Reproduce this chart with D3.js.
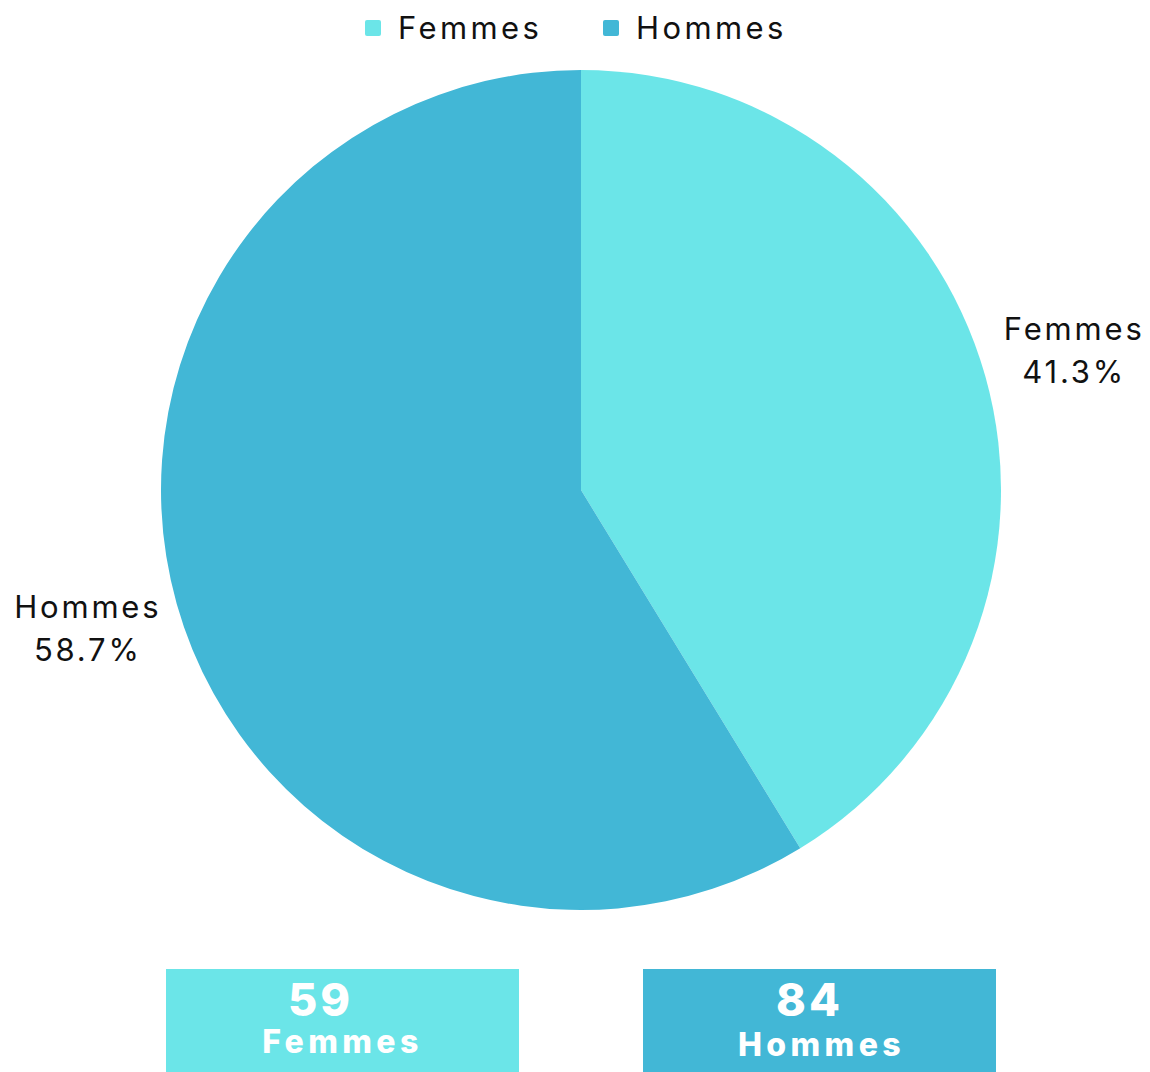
<!DOCTYPE html>
<html>
<head>
<meta charset="utf-8">
<script src="https://cdn.jsdelivr.net/npm/d3@7"></script>
<style>
  body { margin: 0; background: #fff; }
  svg { display: block; font-family: "Inter", "Noto Sans", sans-serif; }
</style>
</head>
<body>
<svg class="chart" width="1150" height="1072"></svg>
<script>
// Data
const categories = ['Femmes', 'Hommes'];
const counts = [59, 84];
const colors = ['#6be5e8', '#42b7d6'];

const width = 1150, height = 1072;
const cx = 581, cy = 490, radius = 420;

const svg = d3.select('.chart');

// Legend
const legend = svg.append('g').attr('class', 'legend');
const legendX = [365, 603];
categories.forEach((c, i) => {
  legend.append('rect')
    .attr('x', legendX[i]).attr('y', 20)
    .attr('width', 16).attr('height', 16)
    .attr('rx', 2)
    .attr('fill', colors[i]);
  legend.append('text')
    .attr('x', legendX[i] + 33).attr('y', 39)
    .attr('font-size', 31)
    .attr('letter-spacing', 3.4)
    .attr('fill', '#111')
    .text(c);
});

// Pie
const total = d3.sum(counts);
const pie = d3.pie().sort(null).value(d => d.value);
const arcs = pie(categories.map((c, i) => ({ name: c, value: counts[i], color: colors[i] })));
const arc = d3.arc().innerRadius(0).outerRadius(radius);
const labelArc = d3.arc().innerRadius(radius * 1.22).outerRadius(radius * 1.22);

const g = svg.append('g').attr('transform', `translate(${cx},${cy})`);
g.selectAll('path')
  .data(arcs)
  .enter()
  .append('path')
  .attr('d', arc)
  .attr('fill', d => d.data.color);

const labels = g.selectAll('.label')
  .data(arcs)
  .enter()
  .append('text')
  .attr('class', 'label')
  .attr('transform', d => `translate(${labelArc.centroid(d)})`)
  .attr('text-anchor', 'middle')
  .attr('font-size', 31)
  .attr('letter-spacing', 2.8)
  .attr('fill', '#111');
labels.append('tspan').attr('x', 0).attr('dy', '-0.35em').text(d => d.data.name);
labels.append('tspan').attr('x', 0).attr('dy', '1.37em')
  .text(d => (d.data.value / total * 100).toFixed(1) + '%');

// Summary boxes
const boxX = d3.scaleBand().domain(categories).range([166, 996]).paddingInner(0.26);
const boxes = svg.selectAll('.box')
  .data(arcs)
  .enter()
  .append('g')
  .attr('class', 'box')
  .attr('transform', d => `translate(${boxX(d.data.name)},969)`);
boxes.append('rect')
  .attr('width', boxX.bandwidth())
  .attr('height', 103)
  .attr('fill', d => d.data.color);
boxes.append('text')
  .attr('x', (d, i) => boxX.bandwidth() / 2 + (i === 0 ? -22 : -10))
  .attr('y', 47)
  .attr('text-anchor', 'middle')
  .attr('font-size', 45)
  .attr('font-weight', 800)
  .attr('letter-spacing', 3)
  .attr('fill', '#fff')
  .text(d => d.data.value);
boxes.append('text')
  .attr('x', (d, i) => boxX.bandwidth() / 2 + (i === 0 ? 0 : 2))
  .attr('y', (d, i) => i === 0 ? 84 : 87)
  .attr('text-anchor', 'middle')
  .attr('font-size', 32)
  .attr('font-weight', 800)
  .attr('letter-spacing', 4.4)
  .attr('fill', '#fff')
  .text(d => d.data.name);
</script>
</body>
</html>
